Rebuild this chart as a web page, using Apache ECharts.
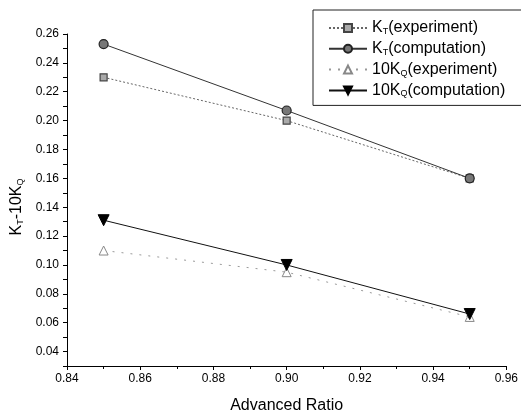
<!DOCTYPE html>
<html><head><meta charset="utf-8">
<script src="https://cdn.jsdelivr.net/npm/echarts@6/dist/echarts.min.js"></script>
<style>html,body{margin:0;padding:0;background:#fff}#c{width:521px;height:419px}</style>
</head><body><div id="c"></div>
<script>
const ratios = [0.85, 0.90, 0.95];
const ktExperiment = [0.230, 0.200, 0.160];
const ktComputation = [0.253, 0.207, 0.160];
const kqExperiment = [0.110, 0.095, 0.064];
const kqComputation = [0.131, 0.100, 0.066];
const seriesNames = ['{n|K}{s|T}{n|(experiment)}', '{n|K}{s|T}{n|(computation)}', '{n|10K}{s|Q}{n|(experiment)}', '{n|10K}{s|Q}{n|(computation)}'];

const font = 'Liberation Sans, Arial, sans-serif';
const pair = (ys) => ratios.map((x, i) => [x, ys[i]]);
const chart = echarts.init(document.getElementById('c'));
const rich = {
  n: {fontSize: 16, fontFamily: font, color: '#000', lineHeight: 18},
  s: {fontSize: 9, fontFamily: font, color: '#000', padding: [7, 0, 0, 0], lineHeight: 18}
};
chart.setOption({
  animation: false,
  grid: {left: 67, right: 12, top: 34, bottom: 53},
  legend: {
    orient: 'vertical', left: 313, top: 10,
    padding: [10, 40, 7, 15], itemGap: 4.8, itemWidth: 38, itemHeight: 10,
    borderColor: '#222', borderWidth: 1, backgroundColor: '#fff',
    formatter: (name) => name,
    textStyle: {rich: rich, fontFamily: font, fontSize: 16}
  },
  xAxis: {
    type: 'value', min: 0.84, max: 0.96, interval: 0.02,
    name: 'Advanced Ratio', nameLocation: 'middle', nameGap: 32,
    nameTextStyle: {fontFamily: font, fontSize: 16, color: '#000'},
    axisLine: {lineStyle: {color: '#000', width: 1}},
    axisTick: {length: 4, lineStyle: {color: '#000'}},
    minorTick: {show: true, splitNumber: 2, length: 3, lineStyle: {color: '#000'}},
    splitLine: {show: false},
    axisLabel: {fontFamily: font, fontSize: 12, color: '#000', margin: 7, formatter: v => v.toFixed(2)}
  },
  yAxis: [{
    type: 'value', min: 0.03, max: 0.26, interval: 0.01,
    name: '{n|K}{s|T}{n|-10K}{s|Q}', nameLocation: 'middle', nameGap: 38, nameRotate: 90,
    nameTextStyle: {rich: rich, fontFamily: font, fontSize: 16, padding: [0, 14, 0, 0]},
    axisLine: {lineStyle: {color: '#000', width: 1}},
    axisTick: {length: 4, lineStyle: {color: '#000'}, interval: (i, v) => Math.round(v * 100) % 2 === 0},
    splitLine: {show: false},
    axisLabel: {fontFamily: font, fontSize: 12, color: '#000', margin: 8,
      interval: (i, v) => Math.round(v * 100) % 2 === 0,
      formatter: v => (Math.round(v * 100) % 2 === 0 ? v.toFixed(2) : '')}
  }, {
    type: 'value', min: 0.03, max: 0.26, interval: 0.01, position: 'left',
    axisLine: {show: false}, axisLabel: {show: false}, splitLine: {show: false},
    axisTick: {length: 2.5, lineStyle: {color: '#000'}}
  }],
  series: [
    {name: seriesNames[0], type: 'line', data: pair(ktExperiment), symbol: 'rect', symbolSize: 7,
     lineStyle: {color: '#666', width: 1, type: [2, 2]},
     itemStyle: {color: '#aaa', borderColor: '#444', borderWidth: 1.2}},
    {name: seriesNames[1], type: 'line', data: pair(ktComputation), symbol: 'circle', symbolSize: 9,
     lineStyle: {color: '#333', width: 1},
     itemStyle: {color: '#777', borderColor: '#222', borderWidth: 1.2}},
    {name: seriesNames[2], type: 'line', data: pair(kqExperiment), symbol: 'triangle', symbolSize: 9,
     lineStyle: {color: '#999', width: 1, type: [2, 7]},
     itemStyle: {color: '#fff', borderColor: '#888', borderWidth: 1}},
    {name: seriesNames[3], type: 'line', data: pair(kqComputation), symbol: 'triangle', symbolRotate: 180, symbolSize: 11,
     lineStyle: {color: '#111', width: 1},
     itemStyle: {color: '#000', borderColor: '#000', borderWidth: 1}}
  ]
});
</script></body></html>
